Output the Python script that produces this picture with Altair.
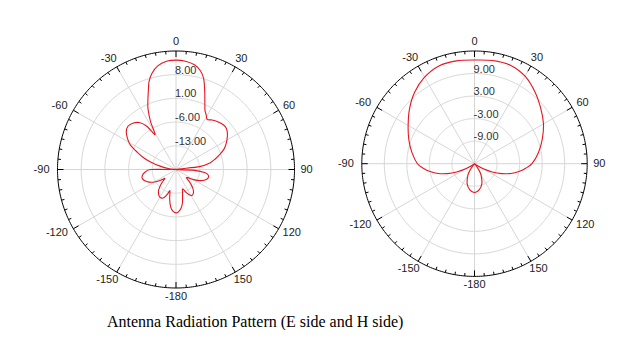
import altair as alt
import pandas as pd

# ---------------- data ----------------
E_ANGLES = [-180, -176, -172, -168, -164, -161, -157, -152, -146, -140, -134, -129,
            -125, -120, -115, -110, -105, -100, -95, -90, -87, -83, -78, -74, -70,
            -66, -62, -58, -53, -48, -43, -38, -34, -31, -28, -25, -23, -20, -17,
            -14, -10, -5, 0, 5, 10, 14, 17, 20, 23, 26, 29, 32, 36, 40, 45, 49, 53,
            57, 63, 67, 71, 75, 79, 83, 88, 92, 96, 100, 105, 110, 115, 120, 125,
            129, 134, 140, 147, 151, 156, 161, 165, 169, 173, 177]
E_DB = [-7.2, -7.6, -8.8, -11.0, -13.5, -12.3, -11.0, -10.5, -10.9, -12.0, -14.0, -15.8,
        -14.5, -12.6, -11.2, -10.2, -9.7, -9.9, -10.8, -12.5, -20.0, -18.0, -15.2, -12.5, -9.8,
        -7.5, -4.8, -3.2, -1.6, -0.9, -1.3, -2.4, -4.6, -8.0, -4.0, -0.5, 1.3, 4.0, 7.2,
        9.3, 11.1, 12.1, 12.3, 12.1, 11.4, 10.0, 8.0, 4.8, 1.8, -0.5, -1.6, -2.6, -1.9, -1.4,
        -0.9, -0.7, -1.1, -1.9, -3.4, -4.6, -6.3, -8.0, -9.8, -13.0, -20.0, -15.0, -11.5,
        -10.3, -10.2, -10.9, -12.2, -14.0, -15.8, -16.0, -14.0, -12.0, -11.0, -11.3, -12.5,
        -14.0, -12.5, -10.0, -8.3, -7.4]

H_ANGLES = [-180, -170, -160, -150, -145, -140, -133, -126, -120, -115, -110, -105,
            -100, -95, -90, -80, -70, -60, -50, -40, -30, -20, -10, 0, 10, 20, 30, 40,
            50, 60, 70, 80, 90, 95, 100, 105, 110, 115, 120, 126, 133, 140, 145, 150,
            160, 170]
H_DB = [-7.3, -7.9, -9.3, -11.5, -13.0, -14.3, -15.0, -14.3, -12.3, -9.8, -7.3, -5.0,
        -3.0, -1.3, 0.2, 1.9, 3.6, 5.4, 7.6, 9.8, 11.6, 12.7, 12.8, 12.6, 12.9, 12.9, 11.9,
        10.0, 8.0, 6.2, 4.2, 2.3, 0.3, -1.3, -3.0, -5.0, -7.3, -9.8, -12.3, -14.3, -15.0,
        -14.3, -13.0, -11.5, -9.3, -7.9]

E_RANGE = [-20, 15]
E_RING_VALUES = [-13, -6, 1, 8]
E_RING_LABELS = ["-13.00", "-6.00", "1.00", "8.00"]

H_RANGE = [-15, 15]
H_RING_VALUES = [-9, -3, 3, 9]
H_RING_LABELS = ["-9.00", "-3.00", "3.00", "9.00"]

SPOKE_ANGLES = [0, 30, 60, 90, 120, 150, 180, 210, 240, 270, 300, 330]
SPOKE_LABELS = ["0", "30", "60", "90", "120", "150", "-180", "-150", "-120", "-90", "-60", "-30"]

TITLE = "Antenna Radiation Pattern (E side and H side)"

FONT = "Liberation Sans"
GRID = "#d6d6d6"
CURVE = "#e8141e"

W, H = 620, 300
XS = alt.Scale(domain=[0, W], nice=False, zero=False)
YS = alt.Scale(domain=[0, H], nice=False, zero=False, reverse=True)


def X(f):
    return alt.X(f, type="quantitative", scale=XS, axis=None)


def Y(f):
    return alt.Y(f, type="quantitative", scale=YS, axis=None)


def polar_layers(angles, dbs, ring_vals, ring_labels, rng, R, cx, cy):
    lo, hi = rng
    span = hi - lo
    rad = f"((datum.v - ({lo})) / {span} * {R})"
    px = lambda r, a="datum.a": f"{cx} + ({r}) * sin({a} * PI / 180)"
    py = lambda r, a="datum.a": f"{cy} - ({r}) * cos({a} * PI / 180)"

    rings = (
        alt.Chart(pd.DataFrame({"v": ring_vals}))
        .transform_calculate(a="sequence(0, 361, 1)")
        .transform_flatten(["a"])
        .transform_calculate(x=px(rad), y=py(rad))
        .mark_line(color=GRID, strokeWidth=1)
        .encode(x=X("x"), y=Y("y"), detail="v:N", order="a:Q")
    )

    outer = (
        alt.Chart(pd.DataFrame({"v": [hi]}))
        .transform_calculate(a="sequence(0, 361, 1)")
        .transform_flatten(["a"])
        .transform_calculate(x=px(rad), y=py(rad))
        .mark_line(color="black", strokeWidth=1)
        .encode(x=X("x"), y=Y("y"), detail="v:N", order="a:Q")
    )

    spokes_df = pd.DataFrame({"a": SPOKE_ANGLES, "label": SPOKE_LABELS})
    spokes = (
        alt.Chart(spokes_df)
        .transform_calculate(x0=px("0"), y0=py("0"), x1=px(R), y1=py(R))
        .mark_rule(color=GRID, strokeWidth=1)
        .encode(x=X("x0"), y=Y("y0"), x2="x1:Q", y2="y1:Q")
    )

    ticks = (
        alt.Chart(alt.sequence(0, 360, 5, as_="a"))
        .transform_calculate(ln="datum.a % 30 == 0 ? 6 : 3")
        .transform_calculate(
            x0=px(R), y0=py(R),
            x1=px(f"{R} - datum.ln"), y1=py(f"{R} - datum.ln"),
        )
        .mark_rule(color="black", strokeWidth=1)
        .encode(x=X("x0"), y=Y("y0"), x2="x1:Q", y2="y1:Q")
    )

    angle_labels = (
        alt.Chart(spokes_df)
        .transform_calculate(
            s="sin(datum.a * PI / 180)",
            c="cos(datum.a * PI / 180)",
            hw="(length(datum.label) * 6.12 - (indexof(datum.label, '-') >= 0 ? 2.46 : 0)) / 2"
               " + (indexof(datum.label, '-') >= 0 ? 2 : 0)",
        )
        .transform_calculate(
            x=f"{cx} + ({R} + 6 + datum.hw) * datum.s",
            y=f"{cy} - ({R} + 9) * datum.c",
        )
        .mark_text(font=FONT, fontSize=11, color="#222", align="center", baseline="middle")
        .encode(x=X("x"), y=Y("y"), text="label:N")
    )

    ring_text = (
        alt.Chart(pd.DataFrame({"v": ring_vals, "label": ring_labels}))
        .transform_calculate(x=f"{cx}", y=f"{cy} - {rad} - 4")
        .mark_text(font=FONT, fontSize=11, color="#333", align="left", baseline="middle", dx=-1)
        .encode(x=X("x"), y=Y("y"), text="label:N")
    )

    curve = (
        alt.Chart(pd.DataFrame({"ang": angles, "db": dbs}))
        .transform_calculate(r=f"(datum.db - ({lo})) / {span} * {R}")
        .transform_calculate(x=px("datum.r", "datum.ang"), y=py("datum.r", "datum.ang"))
        .mark_line(color=CURVE, strokeWidth=1.1, interpolate="cardinal-closed", tension=0.2)
        .encode(x=X("x"), y=Y("y"), order="ang:Q")
    )

    return [rings, spokes, ticks, outer, ring_text, angle_labels, curve]


layers = (
    polar_layers(E_ANGLES, E_DB, E_RING_VALUES, E_RING_LABELS, E_RANGE, 118.5, 168, 161.5)
    + polar_layers(H_ANGLES, H_DB, H_RING_VALUES, H_RING_LABELS, H_RANGE, 112.7, 466.5, 155.7)
)

chart = (
    alt.layer(*layers)
    .properties(
        width=W, height=H, padding=0, background="white",
        title=alt.Title(
            TITLE, orient="bottom", anchor="start", dx=99, offset=6,
            font="Liberation Serif", fontSize=16, fontWeight="normal", color="black",
        ),
    )
    .configure_view(stroke=None)
)

chart.save("out.html", embed_options={"renderer": "svg", "actions": False})
